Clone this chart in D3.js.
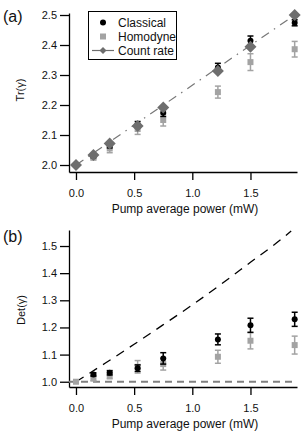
<!DOCTYPE html>
<html lang="en">
<head>
  <meta charset="UTF-8">
  <title>Tr and Det vs pump power</title>
  <script src="https://d3js.org/d3.v7.min.js"></script>
  <style>
    body { margin: 0; background: #fff; }
    svg { display: block; font-family: "Liberation Sans", Arial, sans-serif; }
    .axis path, .axis line { stroke: #000; stroke-width: 1.3; }
    .axis text { font-size: 11px; fill: #111; }
  </style>
</head>
<body>
<svg id="fig" width="306" height="432"></svg>
<script>
// pump average power (mW) for each measurement
const power = [0, 0.15, 0.29, 0.53, 0.75, 1.22, 1.5, 1.88];

// panel (a): Tr(gamma)
const trClassical    = [2.0, 2.03, 2.065, 2.135, 2.174, 2.325, 2.414, 2.474];
const trClassicalErr = [0.004, 0.006, 0.008, 0.01, 0.012, 0.014, 0.016, 0.01];
const trHomodyne     = [2.0, 2.025, 2.055, 2.12, 2.15, 2.243, 2.343, 2.386];
const trHomodyneErr  = [0.004, 0.008, 0.014, 0.018, 0.02, 0.02, 0.028, 0.026];
const trCountRate    = [2.0, 2.033, 2.072, 2.13, 2.192, 2.313, 2.394, 2.5];
const trFitX = [0, 1.88];
const trFitY = [2.0, 2.5];
const trTicks = [2.0, 2.1, 2.2, 2.3, 2.4, 2.5];

// panel (b): Det(gamma)  (no classical point shown at zero power)
const detClassical    = [null, 1.027, 1.033, 1.05, 1.086, 1.156, 1.208, 1.23];
const detClassicalErr = [null, 0.006, 0.008, 0.012, 0.021, 0.02, 0.026, 0.026];
const detHomodyne     = [1.0, 1.012, 1.023, 1.055, 1.065, 1.092, 1.151, 1.135];
const detHomodyneErr  = [0.003, 0.008, 0.012, 0.023, 0.022, 0.024, 0.03, 0.033];
const detCurveX = [0, 0.25, 0.5, 0.75, 1.0, 1.25, 1.5, 1.75, 1.85];
const detCurveY = [1.0, 1.068, 1.138, 1.21, 1.283, 1.36, 1.44, 1.52, 1.555];
const detOneX = [-0.06, 1.9];
const detOneY = [1.0, 1.0];
const detTicks = [1.0, 1.1, 1.2, 1.3, 1.4, 1.5];

const xTicks = [0, 0.5, 1.0, 1.5];

const cBlack = "#000", cHomo = "#a3a3a3", cCount = "#6e6e6e";

const svg = d3.select("#fig");

function panel(opt) {
  const g = svg.append("g");
  const x = d3.scaleLinear().domain([-0.06, 1.9]).range([69, 297]);
  const y = d3.scaleLinear().domain(opt.yDomain).range(opt.yRange);
  const yBottom = opt.yRange[0];

  g.append("g").attr("class", "axis")
    .attr("transform", `translate(0,${yBottom})`)
    .call(d3.axisBottom(x).tickValues(xTicks).tickFormat(d3.format(".1f"))
      .tickSize(8).tickSizeOuter(0).tickPadding(9));
  g.append("g").attr("class", "axis")
    .attr("transform", "translate(69,0)")
    .call(d3.axisLeft(y).tickValues(opt.yTicks).tickFormat(d3.format(".1f"))
      .tickSize(9).tickSizeOuter(0).tickPadding(3));

  g.append("text")
    .attr("x", 185).attr("y", yBottom + 41)
    .attr("text-anchor", "middle").style("font-size", "12px").attr("fill", "#111")
    .text("Pump average power (mW)");
  g.append("text")
    .attr("transform", `translate(${opt.yLabelX},${opt.yLabelY}) rotate(-90)`)
    .attr("text-anchor", "middle").attr("dominant-baseline", "central")
    .style("font-size", "11px").attr("fill", "#111")
    .text(opt.yLabel);
  g.append("text")
    .attr("x", 3).attr("y", opt.tagY)
    .style("font-size", "16px").attr("fill", "#111")
    .text(opt.tag);

  return { g, x, y };
}

function errorBars(g, x, y, vals, errs, color) {
  const cap = 3;
  power.forEach((p, i) => {
    if (vals[i] == null) return;
    const cx = x(p), y0 = y(vals[i] - errs[i]), y1 = y(vals[i] + errs[i]);
    g.append("line").attr("x1", cx).attr("x2", cx).attr("y1", y0).attr("y2", y1)
      .attr("stroke", color).attr("stroke-width", 1.5);
    [y0, y1].forEach(yy => g.append("line")
      .attr("x1", cx - cap).attr("x2", cx + cap).attr("y1", yy).attr("y2", yy)
      .attr("stroke", color).attr("stroke-width", 1.5));
  });
}

function squares(g, x, y, vals, color) {
  g.selectAll(null).data(power.filter((d, i) => vals[i] != null)).enter().append("rect")
    .attr("x", d => x(d) - 3).attr("y", d => y(vals[power.indexOf(d)]) - 3)
    .attr("width", 6).attr("height", 6).attr("fill", color);
}

function dots(g, x, y, vals) {
  g.selectAll(null).data(power.filter((d, i) => vals[i] != null)).enter().append("circle")
    .attr("cx", d => x(d)).attr("cy", d => y(vals[power.indexOf(d)]))
    .attr("r", 3).attr("fill", cBlack);
}

const diamond = d3.symbol().type(d3.symbolSquare).size(72);

// ---------- panel (a)
const A = panel({
  yDomain: [1.9767, 2.5067], yRange: [172, 13], yTicks: trTicks,
  yLabel: "Tr(γ)", yLabelX: 20, yLabelY: 90, tag: "(a)", tagY: 22
});

A.g.append("path")
  .datum(trFitX.map((d, i) => [d, trFitY[i]]))
  .attr("fill", "none").attr("stroke", "#777").attr("stroke-width", 1.2)
  .attr("stroke-dasharray", "9,6,1.5,6")
  .attr("d", d3.line().x(d => A.x(d[0])).y(d => A.y(d[1])));

errorBars(A.g, A.x, A.y, trHomodyne, trHomodyneErr, cHomo);
squares(A.g, A.x, A.y, trHomodyne, cHomo);
errorBars(A.g, A.x, A.y, trClassical, trClassicalErr, cBlack);
dots(A.g, A.x, A.y, trClassical);
A.g.selectAll(null).data(power).enter().append("path")
  .attr("d", diamond)
  .attr("transform", (d, i) => `translate(${A.x(d)},${A.y(trCountRate[i])}) rotate(45)`)
  .attr("fill", cCount);

// legend
const leg = svg.append("g");
leg.append("rect").attr("x", 88.5).attr("y", 11.5).attr("width", 88).attr("height", 48)
  .attr("fill", "#fff").attr("stroke", "#000").attr("stroke-width", 1);
const legItems = ["Classical", "Homodyne", "Count rate"];
const legY = [22.5, 36.5, 50.5];
legItems.forEach((name, i) => {
  const yy = legY[i];
  if (i === 0) {
    leg.append("circle").attr("cx", 103).attr("cy", yy).attr("r", 3).attr("fill", cBlack);
  } else if (i === 1) {
    leg.append("rect").attr("x", 100).attr("y", yy - 3).attr("width", 6).attr("height", 6).attr("fill", cHomo);
  } else {
    leg.append("line").attr("x1", 92).attr("x2", 114).attr("y1", yy).attr("y2", yy)
      .attr("stroke", cCount).attr("stroke-width", 1.2);
    leg.append("path").attr("d", d3.symbol().type(d3.symbolSquare).size(24))
      .attr("transform", `translate(103,${yy}) rotate(45)`).attr("fill", cCount);
  }
  leg.append("text").attr("x", 118).attr("y", yy).attr("dominant-baseline", "central")
    .style("font-size", "12px").attr("fill", "#111").text(name);
});

// ---------- panel (b)
const B = panel({
  yDomain: [0.9806, 1.559], yRange: [387, 230], yTicks: detTicks,
  yLabel: "Det(γ)", yLabelX: 21, yLabelY: 310, tag: "(b)", tagY: 242
});

B.g.append("path")
  .datum(detOneX.map((d, i) => [d, detOneY[i]]))
  .attr("fill", "none").attr("stroke", "#808080").attr("stroke-width", 2)
  .attr("stroke-dasharray", "7,5")
  .attr("d", d3.line().x(d => B.x(d[0])).y(d => B.y(d[1])));

B.g.append("path")
  .datum(detCurveX.map((d, i) => [d, detCurveY[i]]))
  .attr("fill", "none").attr("stroke", "#000").attr("stroke-width", 1.3)
  .attr("stroke-dasharray", "9,7")
  .attr("d", d3.line().curve(d3.curveMonotoneX).x(d => B.x(d[0])).y(d => B.y(d[1])));

errorBars(B.g, B.x, B.y, detHomodyne, detHomodyneErr, cHomo);
squares(B.g, B.x, B.y, detHomodyne, cHomo);
errorBars(B.g, B.x, B.y, detClassical, detClassicalErr, cBlack);
dots(B.g, B.x, B.y, detClassical);
</script>
</body>
</html>
